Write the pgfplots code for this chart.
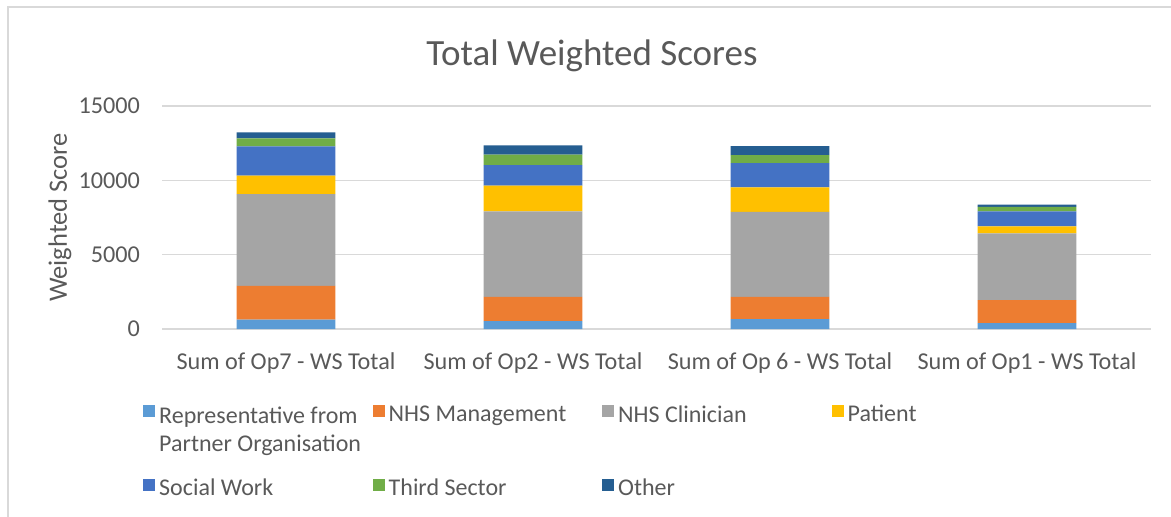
\documentclass[border=0pt]{standalone}
\usepackage{pgfplots}
\pgfplotsset{compat=1.18}
\usepackage{pgfplotstable}
\usepackage{fontspec}
\setmainfont{Carlito}
\definecolor{cRep}{HTML}{5B9BD5}
\definecolor{cMgmt}{HTML}{ED7D31}
\definecolor{cClin}{HTML}{A5A5A5}
\definecolor{cPat}{HTML}{FFC000}
\definecolor{cSW}{HTML}{4472C4}
\definecolor{cThird}{HTML}{70AD47}
\definecolor{cOther}{HTML}{255E91}
\definecolor{txt}{HTML}{595959}
\definecolor{gridc}{HTML}{D9D9D9}

\pgfplotstableread{
x rep mgmt clin pat sw third other
0 624 2282 6174 1235 1966 537 403
1 537 1631 5750 1724 1382 698 624
2 671 1496 5704 1657 1631 537 604
3 400 1543 4496 470 1006 295 154
}\datatable

\newcommand{\lt}[1]{\makebox[196bp][l]{#1}}

\begin{document}
\begin{tikzpicture}
\useasboundingbox (-162.5bp,-188bp) rectangle (1008.5bp,329bp);
\draw[gridc, line width=1.2bp] (-154.5bp,322bp) rectangle (1020bp,-200bp);
\begin{axis}[
  at={(0,0)}, anchor=south west,
  scale only axis, width=988bp, height=223bp,
  ybar stacked, bar width=0.4,
  xmin=-0.5, xmax=3.5, ymin=0, ymax=15000,
  xtick={0,1,2,3},
  xticklabels={Sum of Op7 - WS Total, Sum of Op2 - WS Total, Sum of Op 6 - WS Total, Sum of Op1 - WS Total},
  ytick={0,5000,10000,15000},
  scaled y ticks=false,
  /pgf/number format/1000 sep={},
  /pgf/number format/assume math mode=true,
  axis line style={draw=none},
  major tick length=0pt,
  ymajorgrids,
  grid style={gridc, line width=1.3bp},
  tick label style={font=\fontsize{24.2bp}{28bp}\selectfont, text=txt},
  yticklabel style={anchor=east, xshift=-19bp},
  xticklabel style={anchor=north, yshift=-23bp, inner sep=0pt},
  legend columns=4,
  legend cell align=left,
  legend style={draw=none, fill=none, at={(-0.0197,-0.326)}, anchor=north west,
    font=\fontsize{24bp}{28bp}\selectfont, text=txt, inner sep=0pt,
    /tikz/every even column/.append style={column sep=15.5bp},
    /tikz/every odd column/.append style={column sep=2bp},
    row sep=50bp},
  legend image code/.code={\fill[#1] (0bp,-3bp) rectangle (12bp,9bp);},
]
\addplot[fill=cRep, draw=none] table[x=x, y=rep] {\datatable};
\addplot[fill=cMgmt, draw=none] table[x=x, y=mgmt] {\datatable};
\addplot[fill=cClin, draw=none] table[x=x, y=clin] {\datatable};
\addplot[fill=cPat, draw=none] table[x=x, y=pat] {\datatable};
\addplot[fill=cSW, draw=none] table[x=x, y=sw] {\datatable};
\addplot[fill=cThird, draw=none] table[x=x, y=third] {\datatable};
\addplot[fill=cOther, draw=none] table[x=x, y=other] {\datatable};
\addlegendentry{\makebox[196bp][l]{\begin{tabular}[t]{@{}l@{}}Representative from\\Partner Organisation\end{tabular}}}
\addlegendentry{\lt{NHS Management}}
\addlegendentry{\lt{NHS Clinician}}
\addlegendentry{\lt{Patient}}
\addlegendentry{\lt{Social Work}}
\addlegendentry{\lt{Third Sector}}
\addlegendentry{\lt{Other}}
\end{axis}
\node[text=txt, font=\fontsize{37bp}{40bp}\selectfont] at (429.5bp,273bp) {Total Weighted Scores};
\node[text=txt, font=\fontsize{26.5bp}{30bp}\selectfont, rotate=90] at (-102.5bp,111.5bp) {Weighted Score};
\end{tikzpicture}
\end{document}
